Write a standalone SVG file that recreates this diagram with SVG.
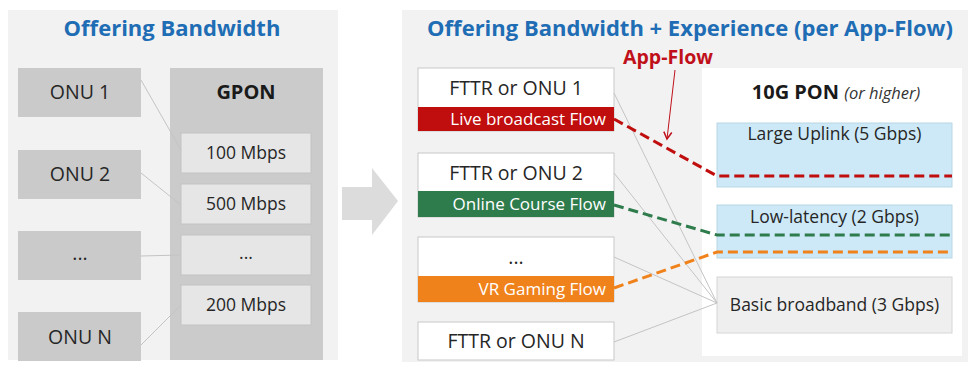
<svg xmlns="http://www.w3.org/2000/svg" width="972" height="369" viewBox="0 0 972 369">
<style>
text{font-family:"Open Sans","Noto Sans","Liberation Sans",sans-serif;fill:#262626}
.title{font-size:22px;font-weight:bold;fill:#1f6db4;text-anchor:middle}
.c{text-anchor:middle}
.t18{font-size:19.5px}
.t16{font-size:17.5px}
.onu{fill:#cacaca}
.inner{fill:#e6e6e6;stroke:#c4c4c4;stroke-width:1}
.wbox{fill:#ffffff;stroke:#c8c8c8;stroke-width:1}
.blue{fill:#cde9f7;stroke:#b9d6e6;stroke-width:1}
.thin{stroke:#c4c4c4;stroke-width:1;fill:none}
.dash{stroke-width:3;fill:none;stroke-dasharray:10 5}
.flow{font-size:17px;fill:#ffffff;text-anchor:end}
.appflow{font-size:19.5px;font-weight:bold;fill:#c0101a;text-anchor:middle}
.bold{font-weight:bold;fill:#1a1a1a}
</style>
<defs>
<marker id="ah" markerWidth="10" markerHeight="10" refX="8" refY="5" orient="auto" markerUnits="userSpaceOnUse">
<path d="M1,1 L8,5 L1,9" fill="none" stroke="#c0101a" stroke-width="1.5"/>
</marker>
</defs>
<rect x="0" y="0" width="972" height="369" fill="#ffffff"/>
<g id="left-panel">
<rect x="8" y="10" width="330" height="350" fill="#f2f2f2"/>
<text class="title" x="172" y="36">Offering Bandwidth</text>
</g>
<g id="onu1"><rect class="onu" x="18" y="68" width="123" height="49"/><text class="c t18" x="80" y="99">ONU 1</text></g>
<g id="onu2"><rect class="onu" x="18" y="150" width="123" height="49"/><text class="c t18" x="80" y="181">ONU 2</text></g>
<g id="onu3"><rect class="onu" x="18" y="231" width="123" height="49"/><text class="c t18" x="80" y="260">...</text></g>
<g id="onuN"><rect class="onu" x="18" y="312" width="123" height="49"/><text class="c t18" x="80" y="344">ONU N</text></g>
<g id="gpon">
<rect x="170" y="68" width="153" height="292" fill="#cbcbcb"/>
<text class="c bold" x="246" y="99" font-size="20">GPON</text>
</g>
<g id="bw100"><rect class="inner" x="181" y="133" width="130" height="40"/><text class="c t16" x="246" y="159">100 Mbps</text></g>
<g id="bw500"><rect class="inner" x="181" y="184" width="130" height="40"/><text class="c t16" x="246" y="210">500 Mbps</text></g>
<g id="bwdots"><rect class="inner" x="181" y="235" width="130" height="40"/><text class="c t16" x="246" y="259">...</text></g>
<g id="bw200"><rect class="inner" x="181" y="285" width="130" height="40"/><text class="c t16" x="246" y="311">200 Mbps</text></g>
<g id="transition-arrow">
<polygon points="342,187 372,187 372,168 398,201 372,235 372,220 342,220" fill="#dcdcdc"/>
</g>
<g id="right-panel">
<rect x="402" y="10" width="566" height="352" fill="#f2f2f2"/>
<text class="title" x="690" y="36">Offering Bandwidth + Experience (per App-Flow)</text>
</g>
<g id="pon10g">
<rect x="702" y="68" width="260" height="288" fill="#ffffff"/>
<text x="836" y="99" text-anchor="middle"><tspan font-size="20" font-weight="bold" fill="#1a1a1a">10G PON </tspan><tspan font-size="16.5" font-style="italic" fill="#333">(or higher)</tspan></text>
</g>
<g id="large-uplink"><rect class="blue" x="717" y="123" width="235" height="64"/><text class="c t16" x="834.5" y="140">Large Uplink (5 Gbps)</text></g>
<g id="low-latency"><rect class="blue" x="717" y="205" width="235" height="53"/><text class="c t16" x="834.5" y="223">Low-latency (2 Gbps)</text></g>
<g id="basic"><rect x="717" y="277" width="235" height="56" fill="#efefef" stroke="#d6d6d6"/><text class="c t16" x="834.5" y="311">Basic broadband (3 Gbps)</text></g>
<g id="fttr1">
<rect class="wbox" x="418" y="68" width="196" height="63"/>
<rect x="418" y="107" width="196" height="24" fill="#c00d0d"/>
<text class="c t18" x="516" y="95">FTTR or ONU 1</text>
<text class="flow" x="606" y="125">Live broadcast Flow</text>
</g>
<g id="fttr2">
<rect class="wbox" x="418" y="153" width="196" height="64"/>
<rect x="418" y="191" width="196" height="26" fill="#2e7b4c"/>
<text class="c t18" x="516" y="180">FTTR or ONU 2</text>
<text class="flow" x="606" y="210">Online Course Flow</text>
</g>
<g id="fttr3">
<rect class="wbox" x="418" y="237" width="196" height="65"/>
<rect x="418" y="276" width="196" height="26" fill="#f0821c"/>
<text class="c t18" x="516" y="264">...</text>
<text class="flow" x="606" y="295">VR Gaming Flow</text>
</g>
<g id="fttrN">
<rect class="wbox" x="418" y="322" width="196" height="38"/>
<text class="c t18" x="516" y="348">FTTR or ONU N</text>
</g>
<g id="app-flow-label">
<text class="appflow" x="668" y="64">App-Flow</text>
</g>
<g id="connectors">
<line class="thin" x1="141" y1="80" x2="181" y2="150"/>
<line class="thin" x1="141" y1="173" x2="181" y2="205"/>
<line class="thin" x1="141" y1="256" x2="181" y2="255"/>
<line class="thin" x1="141" y1="345" x2="181" y2="305"/>
<line class="thin" x1="614" y1="93" x2="717" y2="303"/>
<line class="thin" x1="614" y1="173" x2="717" y2="303"/>
<line class="thin" x1="614" y1="257" x2="717" y2="303"/>
<line class="thin" x1="614" y1="342" x2="717" y2="303"/>
<polyline class="dash" stroke="#c00d0d" points="614,119 717,176 952,176"/>
<polyline class="dash" stroke="#2e7b4c" points="614,205 717,235 952,235"/>
<polyline class="dash" stroke="#f0821c" points="614,288 717,252 952,252"/>
<line x1="675" y1="70" x2="667" y2="139" stroke="#c0101a" stroke-width="1" marker-end="url(#ah)"/>
</g>
</svg>
